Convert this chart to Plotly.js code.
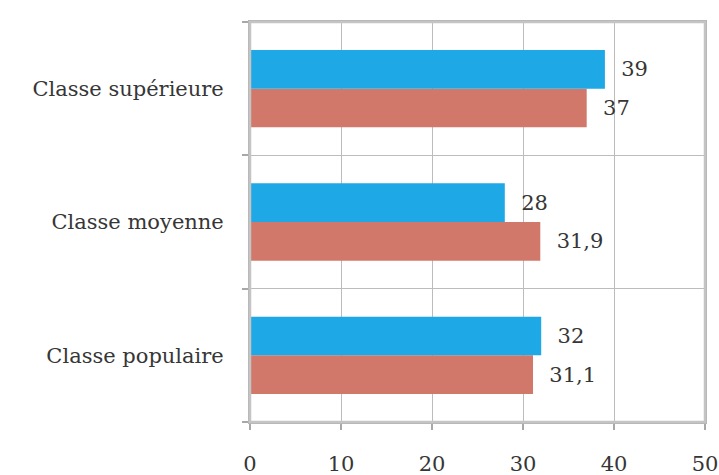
<!DOCTYPE html>
<html>
<head>
<meta charset="utf-8">
<script src="https://cdn.plot.ly/plotly-3.0.1.min.js"></script>
<style>html,body{margin:0;padding:0;background:#fff;}#chart{width:719px;height:475px;}</style>
</head>
<body>
<div id="chart"></div>
<script>
// Categories listed bottom-to-top
const categories = ['Classe populaire', 'Classe moyenne', 'Classe supérieure'];
const seriesBlue = [32, 28, 39];
const seriesRed = [31.1, 31.9, 37];
const xTicks = [0, 10, 20, 30, 40, 50];

const fmt = v => '  ' + String(v).replace('.', ',');
const FONT = 'DejaVu Serif, serif';

const common = {
  type: 'bar',
  orientation: 'h',
  y: categories,
  textposition: 'outside',
  cliponaxis: false,
  textfont: {family: FONT, size: 21, color: '#363636'},
  hoverinfo: 'none'
};

const data = [
  Object.assign({}, common, {
    name: 'red',
    x: seriesRed,
    text: seriesRed.map(fmt),
    marker: {color: '#d2786a'}
  }),
  Object.assign({}, common, {
    name: 'blue',
    x: seriesBlue,
    text: seriesBlue.map(fmt),
    marker: {color: '#1ea8e6'}
  })
];

const layout = {
  width: 719,
  height: 475,
  margin: {l: 250, r: 14, t: 22, b: 53},
  paper_bgcolor: '#ffffff',
  plot_bgcolor: '#ffffff',
  showlegend: false,
  barmode: 'group',
  bargap: 0.42,
  bargroupgap: 0,
  font: {family: FONT, color: '#363636'},
  xaxis: {
    range: [0, 50],
    tickvals: xTicks,
    ticktext: xTicks.map(String),
    showgrid: true,
    gridcolor: '#bcbcbc',
    gridwidth: 1.2,
    zeroline: false,
    showline: true,
    mirror: true,
    linecolor: '#b4b4b4',
    linewidth: 2,
    ticks: 'outside',
    ticklen: 6,
    tickcolor: '#a8a8a8',
    tickwidth: 1.5,
    ticklabelstandoff: 16,
    tickfont: {family: FONT, size: 21, color: '#363636'},
    fixedrange: true
  },
  yaxis: {
    type: 'category',
    tickson: 'boundaries',
    showgrid: true,
    gridcolor: '#bcbcbc',
    gridwidth: 1.2,
    showline: true,
    mirror: true,
    linecolor: '#b4b4b4',
    linewidth: 2,
    ticks: 'outside',
    ticklen: 6,
    tickcolor: '#a8a8a8',
    tickwidth: 1.5,
    ticklabelstandoff: 20,
    tickfont: {family: FONT, size: 21, color: '#363636'},
    fixedrange: true
  },
  shapes: [{
    type: 'rect', xref: 'paper', yref: 'paper', x0: 0, x1: 1, y0: 0, y1: 1,
    line: {color: '#c4c4c4', width: 2.5}, layer: 'above'
  }]
};

Plotly.newPlot('chart', data, layout, {displayModeBar: false});
</script>
</body>
</html>
